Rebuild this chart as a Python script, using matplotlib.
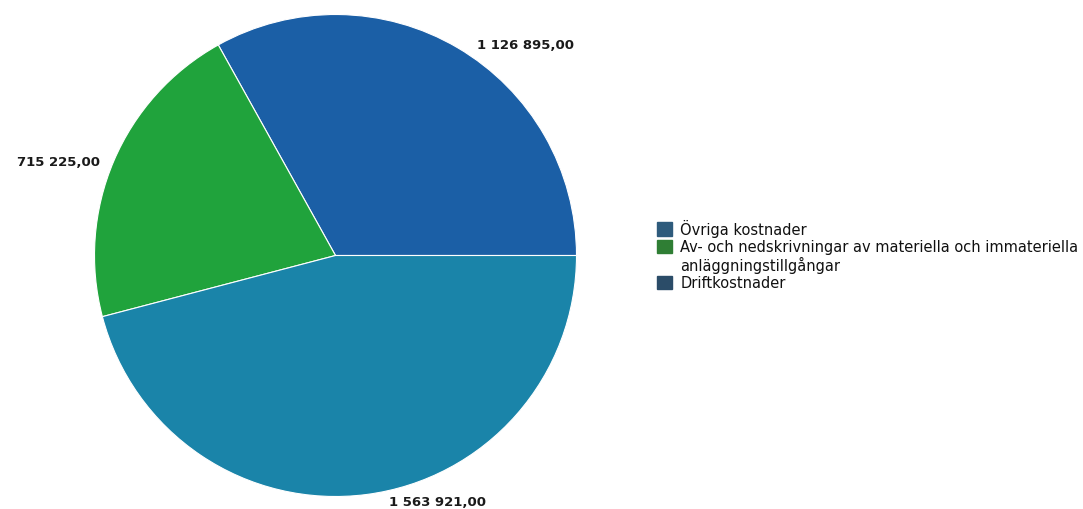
import matplotlib
matplotlib.use("Agg")
import matplotlib.pyplot as plt
from matplotlib.patches import Patch

# data
kategorier = ["Övriga kostnader",
              "Av- och nedskrivningar av materiella och immateriella\nanläggningstillgångar",
              "Driftkostnader"]
belopp = [1126895.00, 715225.00, 1563921.00]
etiketter = ["1 126 895,00", "715 225,00", "1 563 921,00"]

farger_tart = ["#1b5fa6", "#20a33c", "#1a84a9"]
farger_legend = ["#2e5b7c", "#2f7e34", "#2b4c68"]

plt.rcParams['font.family'] = ['DejaVu Sans']

fig = plt.figure(figsize=(10.83, 5.10), dpi=100)
W, H = 1083, 510
cx, cy, r = 335.5, 256.5, 241
ax = fig.add_axes([(cx - r) / W, (H - cy - r) / H, 2 * r / W, 2 * r / H])

wedges, _ = ax.pie(belopp, colors=farger_tart, startangle=0, counterclock=True,
                   wedgeprops=dict(edgecolor="white", linewidth=0.8))
ax.set_aspect("equal")
ax.set_xlim(-1, 1)
ax.set_ylim(-1, 1)

# etiketter (positioner i radie-enheter)
pos = [(0.589, 0.874, "left"), (-0.977, 0.390, "right"), (0.423, -1.019, "center")]
for (x, y, ha), txt in zip(pos, etiketter):
    ax.text(x, y, txt, ha=ha, va="center", fontsize=9.5, fontweight="bold",
            color="#1a1a1a", clip_on=False)

# legend: fortsättningsrader får en tom ruta så att färgrutan hamnar på första raden
handles, texter = [], []
for namn, c in zip(kategorier, farger_legend):
    rader = namn.split("\n")
    handles.append(Patch(facecolor=c, edgecolor=c))
    texter.append(rader[0])
    for rad in rader[1:]:
        handles.append(Patch(facecolor="none", edgecolor="none"))
        texter.append(rad)

fig.legend(handles, texter, loc="upper left",
           bbox_to_anchor=(657 / W, 1 - 220 / H), frameon=False,
           fontsize=10.5, handlelength=1.0, handleheight=1.0, handletextpad=0.6,
           labelspacing=0.14, borderpad=0, borderaxespad=0, labelcolor="#111111")

fig.savefig("out.png", dpi=100)
